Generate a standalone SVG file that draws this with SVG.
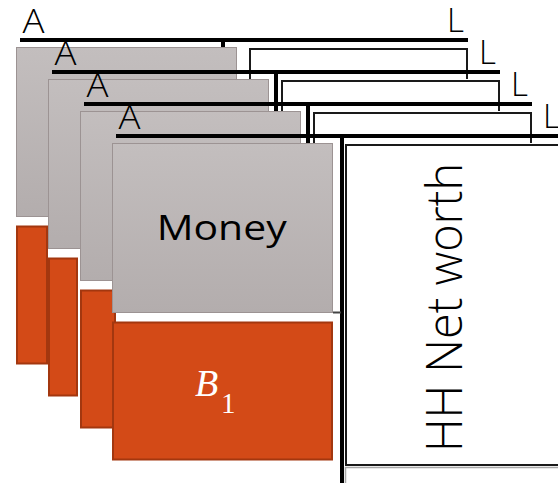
<svg xmlns="http://www.w3.org/2000/svg" width="558" height="483" viewBox="0 0 558 483">
<defs>
<linearGradient id="grayGrad" x1="0" y1="0" x2="0" y2="1">
<stop offset="0" stop-color="#c3bebe"/>
<stop offset="1" stop-color="#b3adad"/>
</linearGradient>
<style>
.bg{fill:#ffffff;stroke:none}
.tline{stroke:#000;stroke-width:4;fill:none}
.box{fill:#ffffff;stroke:#1a1a1a;stroke-width:2}
.money{fill:url(#grayGrad);stroke:#9c9393;stroke-width:1}
.debt{fill:#d34a17;stroke:#a3370f;stroke-width:2}
.lab{font-family:"Open Sans","Noto Sans","Liberation Sans",sans-serif;font-size:33px;font-weight:300;fill:#000}
.big{font-family:"Open Sans","Noto Sans","Liberation Sans",sans-serif;fill:#000}
.math{font-family:"Liberation Serif","DejaVu Serif",serif;fill:#ffffff}
</style>
</defs>

<g id="sheet-0">
<rect class="bg" x="20" y="47" width="450" height="340"/>
<rect class="box" x="250" y="49" width="217" height="320"/>
<line class="tline" x1="223" y1="40" x2="223" y2="370"/>
<line class="tline" x1="20" y1="40" x2="468" y2="40"/>
<text class="lab" x="22.5" y="33" textLength="22" lengthAdjust="spacingAndGlyphs">A</text>
<text class="lab" x="447" y="32">L</text>
<rect class="money" x="16.5" y="47.5" width="220" height="169"/>
<rect class="debt" x="17" y="226.5" width="30" height="137"/>
</g>

<g id="sheet-1">
<rect class="bg" x="52" y="79" width="450" height="340"/>
<rect class="box" x="282" y="81" width="217" height="320"/>
<line class="tline" x1="276" y1="72" x2="276" y2="402"/>
<line class="tline" x1="52" y1="72" x2="500" y2="72"/>
<text class="lab" x="54.5" y="65" textLength="22" lengthAdjust="spacingAndGlyphs">A</text>
<text class="lab" x="479" y="64">L</text>
<rect class="money" x="48.5" y="79.5" width="220" height="169"/>
<rect class="debt" x="49" y="258.5" width="28" height="137"/>
</g>

<g id="sheet-2">
<rect class="bg" x="84" y="111" width="450" height="340"/>
<rect class="box" x="314" y="113" width="217" height="320"/>
<line class="tline" x1="308" y1="104" x2="308" y2="434"/>
<line class="tline" x1="84" y1="104" x2="532" y2="104"/>
<text class="lab" x="86.5" y="97" textLength="22" lengthAdjust="spacingAndGlyphs">A</text>
<text class="lab" x="511" y="96">L</text>
<rect class="money" x="80.5" y="111.5" width="220" height="169"/>
<rect class="debt" x="81" y="290.5" width="34" height="137"/>
</g>

<g id="sheet-3">
<rect class="bg" x="116" y="143" width="450" height="340"/>
<rect x="345.5" y="467.5" width="230" height="30" fill="none" stroke="#a8a8a8" stroke-width="1.5"/>
<rect class="box" x="346" y="145" width="217" height="320"/>
<line class="tline" x1="342" y1="136" x2="342" y2="483"/>
<line class="tline" x1="116" y1="136" x2="564" y2="136"/>
<line x1="333" y1="312.5" x2="341" y2="312.5" stroke="#444" stroke-width="2"/>
<text class="lab" x="118.5" y="129" textLength="22" lengthAdjust="spacingAndGlyphs">A</text>
<text class="lab" x="543" y="128">L</text>
<rect class="money" x="112.5" y="143.5" width="220" height="169"/>
<rect class="debt" x="113" y="322.5" width="219" height="137"/>
<text class="big" x="221.7" y="240" font-size="35" text-anchor="middle" textLength="130" lengthAdjust="spacingAndGlyphs">Money</text>
<text class="math" x="195" y="396" font-size="38" font-style="italic">B</text>
<text class="math" x="221" y="413" font-size="29">1</text>
<text class="big" transform="translate(462 307.5) rotate(-90)" x="0" y="0" font-size="49" font-weight="300" text-anchor="middle" textLength="289" lengthAdjust="spacingAndGlyphs">HH Net worth</text>
</g>
</svg>
